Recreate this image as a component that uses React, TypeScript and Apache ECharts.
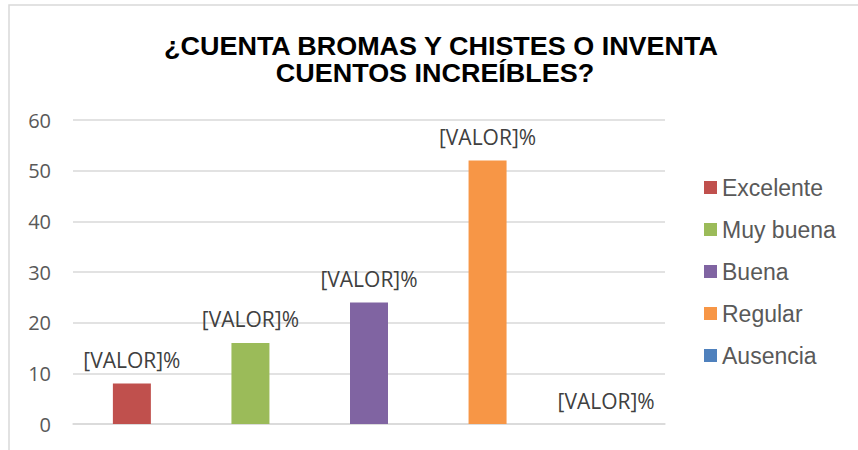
import React, { useEffect, useRef } from "react";
import * as echarts from "echarts";

const categories = [""];
const seriesNames = ["Excelente", "Muy buena", "Buena", "Regular", "Ausencia"];
const seriesValues = [8, 16, 24, 52, 0];
const seriesColors = ["#C0504D", "#9BBB59", "#8064A2", "#F79646", "#4F81BD"];
const titleLines = ["¿CUENTA BROMAS Y CHISTES O INVENTA", "CUENTOS INCREÍBLES?"];
const labelText = "[VALOR]%";

export default function App() {
  const ref = useRef<HTMLDivElement>(null);
  useEffect(() => {
    if (!ref.current) return;
    const chart = echarts.init(ref.current, undefined, { renderer: "svg" });
    const titleStyle = {
      fontFamily: "Liberation Sans",
      fontWeight: "bold",
      fontSize: 25,
      fill: "#000000",
      textAlign: "center",
      textVerticalAlign: "middle",
    };
    const option: any = {
      animation: false,
      backgroundColor: "#ffffff",
      graphic: [
        {
          type: "rect",
          shape: { x: 9, y: 5, width: 900, height: 500 },
          style: { fill: "none", stroke: "#d9d9d9", lineWidth: 1.5 },
          silent: true,
          z: -10,
        },
        {
          type: "text",
          x: 441,
          y: 46,
          scaleX: 1.078,
          style: { ...titleStyle, text: titleLines[0] },
        },
        {
          type: "text",
          x: 435,
          y: 73,
          scaleX: 1.078,
          style: { ...titleStyle, text: titleLines[1] },
        },
      ],
      legend: {
        orient: "vertical",
        left: 699,
        top: 171,
        itemWidth: 13,
        itemHeight: 13,
        itemGap: 19,
        icon: "rect",
        textStyle: {
          fontFamily: "Liberation Sans",
          fontSize: 23,
          lineHeight: 22,
          color: "#595959",
        },
        data: seriesNames,
      },
      grid: { left: 73, right: 193, top: 120, bottom: 26, containLabel: false },
      xAxis: {
        type: "category",
        data: categories,
        axisLine: { show: true, lineStyle: { color: "#d9d9d9", width: 1.5 } },
        axisTick: { show: false },
        axisLabel: { show: false },
      },
      yAxis: {
        type: "value",
        min: 0,
        max: 60,
        interval: 10,
        axisLine: { show: false },
        axisTick: { show: false },
        splitLine: { lineStyle: { color: "#d9d9d9", width: 1.5 } },
        axisLabel: {
          margin: 22,
          fontFamily: "Open Sans",
          fontSize: 20,
          color: "#595959",
        },
      },
      series: seriesNames.map((name, i) => ({
        name,
        type: "bar",
        barWidth: 38,
        barGap: "212%",
        itemStyle: { color: seriesColors[i] },
        label: {
          show: true,
          position: "top",
          distance: 13,
          formatter: () => labelText,
          fontFamily: "Open Sans",
          fontSize: 21,
          color: "#404040",
        },
        data: [seriesValues[i]],
      })),
    };
    chart.setOption(option);
    return () => chart.dispose();
  }, []);
  return (
    <div
      ref={ref}
      style={{ position: "fixed", left: 0, top: 0, width: 858, height: 450 }}
    />
  );
}
